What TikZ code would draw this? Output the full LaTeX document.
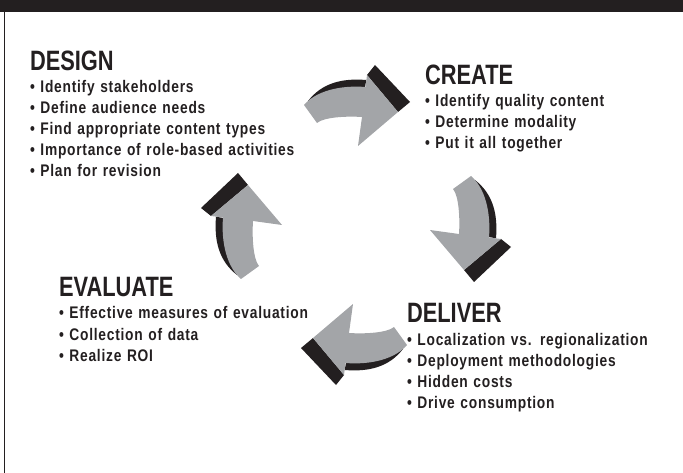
\documentclass[tikz,border=0pt]{standalone}
\usepackage{fontspec}
\usepackage{xcolor}
\usepackage{tikz}
\usetikzlibrary{chains,positioning}
\newfontfamily\headfont{Liberation Sans}[FakeStretch=0.78]
\newfontfamily\itemfont{Liberation Sans}[FakeStretch=0.82,LetterSpace=4.5]
\definecolor{inkblack}{RGB}{35,31,32}
\definecolor{arrowgray}{RGB}{163,165,168}

%% one bent arrow, drawn pointing right above the centre of the cycle
\newcommand{\bentarrow}{%
  \fill[inkblack] (-44,-123) .. controls (-30,-141) and (-10,-146) .. (14.3,-144) -- (10,-120) -- cycle;
  \fill[inkblack] (15,-149) -- (23,-159) -- (58,-122) -- (46,-112) -- cycle;
  \fill[arrowgray] (-48,-119) .. controls (-36,-133) and (-12,-139) .. (13.5,-137)
    -- (15,-149) -- (46,-112) -- (6,-78) -- (10,-107)
    .. controls (-5,-108) and (-28,-107) .. (-35,-101) -- cycle;
}

\begin{document}
\begin{tikzpicture}[x=1pt,y=-1pt]
	\tikzstyle{every node}=[inner sep=0pt,outer sep=0pt,text=inkblack]

	\edef\sizecol{290pt}
	\tikzstyle{stagehead}=[text width=\sizecol,align=left,font=\headfont\bfseries\fontsize{28}{30}\selectfont,text height=20pt,text depth=4.5pt]
	\tikzstyle{stageitem}=[text width=\sizecol,align=left,font=\itemfont\bfseries\fontsize{16.8}{18}\selectfont,text height=11.5pt,text depth=3.5pt]

	\useasboundingbox (0,0) rectangle (683,473);
	%% frame: dark band on top, thin rule down the left side
	\fill[inkblack] (0,0) rectangle (683,12);
	\draw[inkblack,line width=1.5pt] (4.7,12) -- (4.7,473);

	%% the four bent arrows of the cycle
	\begin{scope}[shift={(352,224)}]
	    \bentarrow
	\end{scope}
	\begin{scope}[shift={(352,224)},rotate=-90]
	    \bentarrow
	\end{scope}
	\begin{scope}[shift={(359,226)},rotate=180]
	    \bentarrow
	\end{scope}
	\begin{scope}[shift={(360,231)},rotate=90]
	    \bentarrow
	\end{scope}

	%% Design
	\begin{scope}[start chain=design going below,node distance=6pt]
	    \node [on chain=design,stagehead,anchor=base west] (design) at (30,71) {DESIGN};
	    \node [on chain=design,stageitem] (design1) {• Identify stakeholders};
	    \node [on chain=design,stageitem] (design2) {• Define audience needs};
	    \node [on chain=design,stageitem] (design3) {• Find appropriate content types};
	    \node [on chain=design,stageitem] (design4) {• Importance of role-based activities};
	    \node [on chain=design,stageitem] (design5) {• Plan for revision};
	\end{scope}

	%% Create
	\begin{scope}[start chain=create going below,node distance=6pt]
	    \node [on chain=create,stagehead,anchor=base west] (create) at (425,85) {CREATE};
	    \node [on chain=create,stageitem] (create1) {• Identify quality content};
	    \node [on chain=create,stageitem] (create2) {• Determine modality};
	    \node [on chain=create,stageitem] (create3) {• Put it all together};
	\end{scope}

	%% Evaluate
	\begin{scope}[start chain=evaluate going below,node distance=6pt]
	    \node [on chain=evaluate,stagehead,anchor=base west] (evaluate) at (59,297) {EVALUATE};
	    \node [on chain=evaluate,stageitem] (evaluate1) {• Effective measures of evaluation};
	    \node [on chain=evaluate,stageitem] (evaluate2) {• Collection of data};
	    \node [on chain=evaluate,stageitem] (evaluate3) {• Realize ROI};
	\end{scope}

	%% Deliver
	\begin{scope}[start chain=deliver going below,node distance=6pt]
	    \node [on chain=deliver,stagehead,anchor=base west] (deliver) at (407,323) {DELIVER};
	    \node [on chain=deliver,stageitem] (deliver1) {• Localization vs. regionalization};
	    \node [on chain=deliver,stageitem] (deliver2) {• Deployment methodologies};
	    \node [on chain=deliver,stageitem] (deliver3) {• Hidden costs};
	    \node [on chain=deliver,stageitem] (deliver4) {• Drive consumption};
	\end{scope}

\end{tikzpicture}
\end{document}
